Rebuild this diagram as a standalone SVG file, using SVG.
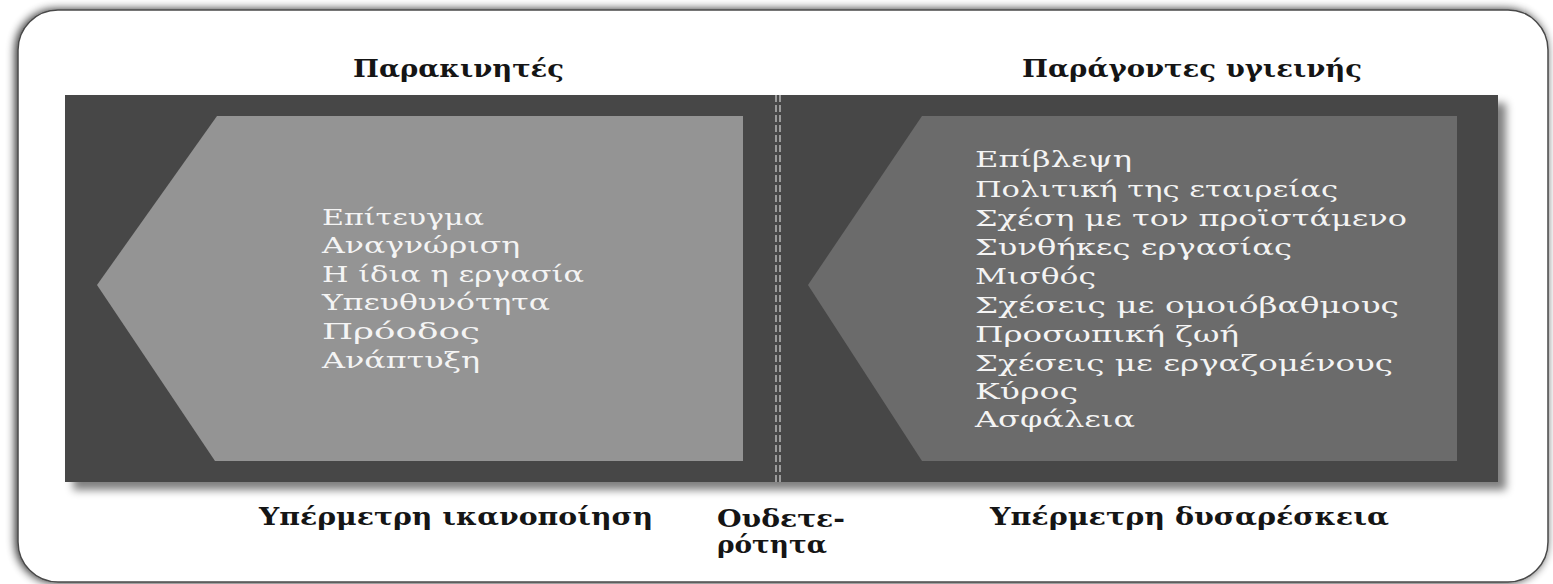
<svg xmlns="http://www.w3.org/2000/svg" width="1553" height="584" viewBox="0 0 1553 584">
  <defs>
    <filter id="frameShadow" x="-5%" y="-10%" width="110%" height="120%">
      <feGaussianBlur in="SourceAlpha" stdDeviation="5"/>
      <feOffset dx="-2" dy="0" result="b"/>
      <feComponentTransfer><feFuncA type="linear" slope="0.85"/></feComponentTransfer>
      <feMerge><feMergeNode/><feMergeNode in="SourceGraphic"/></feMerge>
    </filter>
    <filter id="boxShadow" x="-5%" y="-5%" width="110%" height="120%">
      <feGaussianBlur in="SourceAlpha" stdDeviation="4"/>
      <feOffset dx="8" dy="8" result="b"/>
      <feComponentTransfer><feFuncA type="linear" slope="0.5"/></feComponentTransfer>
      <feMerge><feMergeNode/><feMergeNode in="SourceGraphic"/></feMerge>
    </filter>
  </defs>
  <style>
    .head { font-family: "DejaVu Serif", "Liberation Serif", serif; font-weight: bold; font-size: 25px; fill: #151515; }
    .item { font-family: "DejaVu Serif", "Liberation Serif", serif; font-size: 22px; fill: #f4f4f4; }
    .divider { stroke: #c8c8c8; stroke-width: 1.3; stroke-dasharray: 7 3; fill: none; }
  </style>

  <rect width="1553" height="584" fill="#ffffff"/>

  <!-- outer rounded frame -->
  <g id="frame">
    <rect x="18" y="10" width="1530" height="572" rx="40" ry="40" fill="#ffffff" stroke="#4a4a4a" stroke-width="1.5" filter="url(#frameShadow)"/>
  </g>

  <!-- dark panel -->
  <g id="panel">
    <rect x="65" y="95" width="1433" height="387" fill="#474747" filter="url(#boxShadow)"/>
  </g>

  <!-- motivators arrow -->
  <g id="motivators">
    <polygon points="217,116 743,116 743,461 215,461 97,285" fill="#949494"/>
    <text class="item" x="322" y="225" textLength="162" lengthAdjust="spacingAndGlyphs">Επίτευγμα</text>
    <text class="item" x="322" y="253" textLength="198" lengthAdjust="spacingAndGlyphs">Αναγνώριση</text>
    <text class="item" x="322" y="282" textLength="262" lengthAdjust="spacingAndGlyphs">Η ίδια η εργασία</text>
    <text class="item" x="322" y="310" textLength="228" lengthAdjust="spacingAndGlyphs">Υπευθυνότητα</text>
    <text class="item" x="322" y="339" textLength="158" lengthAdjust="spacingAndGlyphs">Πρόοδος</text>
    <text class="item" x="322" y="368" textLength="158" lengthAdjust="spacingAndGlyphs">Ανάπτυξη</text>
  </g>

  <!-- hygiene factors arrow -->
  <g id="hygiene">
    <polygon points="922,116 1457,116 1457,461 922,461 808,285" fill="#6b6b6b"/>
    <text class="item" x="975" y="167" textLength="157" lengthAdjust="spacingAndGlyphs">Επίβλεψη</text>
    <text class="item" x="975" y="197" textLength="363" lengthAdjust="spacingAndGlyphs">Πολιτική της εταιρείας</text>
    <text class="item" x="975" y="226" textLength="432" lengthAdjust="spacingAndGlyphs">Σχέση με τον προϊστάμενο</text>
    <text class="item" x="975" y="255" textLength="317" lengthAdjust="spacingAndGlyphs">Συνθήκες εργασίας</text>
    <text class="item" x="975" y="284" textLength="121" lengthAdjust="spacingAndGlyphs">Μισθός</text>
    <text class="item" x="975" y="313" textLength="424" lengthAdjust="spacingAndGlyphs">Σχέσεις με ομοιόβαθμους</text>
    <text class="item" x="975" y="342" textLength="264" lengthAdjust="spacingAndGlyphs">Προσωπική ζωή</text>
    <text class="item" x="975" y="371" textLength="418" lengthAdjust="spacingAndGlyphs">Σχέσεις με εργαζομένους</text>
    <text class="item" x="975" y="399" textLength="103" lengthAdjust="spacingAndGlyphs">Κύρος</text>
    <text class="item" x="975" y="427" textLength="160" lengthAdjust="spacingAndGlyphs">Ασφάλεια</text>
  </g>

  <!-- neutral divider -->
  <g id="connectors">
    <line class="divider" x1="776" y1="95" x2="776" y2="482"/>
    <line class="divider" x1="780" y1="95" x2="780" y2="482"/>
  </g>

  <!-- headings and scale labels -->
  <g id="labels">
    <text class="head" x="353" y="77" textLength="211" lengthAdjust="spacingAndGlyphs">Παρακινητές</text>
    <text class="head" x="1022" y="77" textLength="340" lengthAdjust="spacingAndGlyphs">Παράγοντες υγιεινής</text>
    <text class="head" x="259" y="525" textLength="394" lengthAdjust="spacingAndGlyphs">Υπέρμετρη ικανοποίηση</text>
    <text class="head" x="717" y="527" textLength="128" lengthAdjust="spacingAndGlyphs">Ουδετε-</text>
    <text class="head" x="717" y="553" textLength="110" lengthAdjust="spacingAndGlyphs">ρότητα</text>
    <text class="head" x="990" y="525" textLength="399" lengthAdjust="spacingAndGlyphs">Υπέρμετρη δυσαρέσκεια</text>
  </g>
</svg>
